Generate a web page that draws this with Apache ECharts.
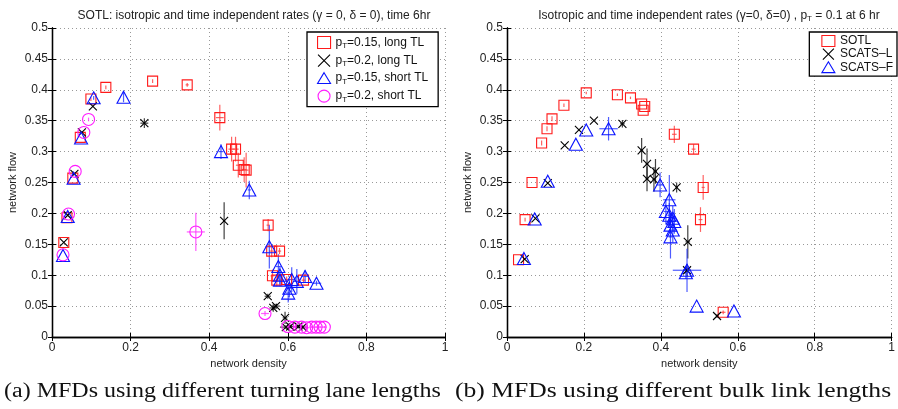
<!DOCTYPE html>
<html>
<head>
<meta charset="utf-8">
<script src="https://cdn.jsdelivr.net/npm/echarts@6/dist/echarts.min.js"></script>
<style>
  html, body { margin: 0; padding: 0; background: #fff; }
  #main { width: 898px; height: 409px; }
</style>
</head>
<body>
<div id="main"></div>
<script>
// each point: [density, flow, density error, flow error]
var longTL015 = [[0.030,0.153,0,0],[0.038,0.193,0,0],[0.053,0.257,0,0],[0.072,0.323,0,0],[0.099,0.385,0,0.003],[0.137,0.404,0,0.003],[0.256,0.414,0,0.003],[0.344,0.408,0.004,0.003],[0.427,0.355,0.010,0.021],[0.457,0.304,0.008,0.020],[0.467,0.304,0.008,0.020],[0.474,0.278,0.006,0.020],[0.489,0.271,0.006,0.020],[0.494,0.270,0.006,0.028],[0.550,0.181,0.004,0.010],[0.559,0.139,0.006,0.010],[0.579,0.139,0.004,0.005],[0.561,0.099,0.005,0.010],[0.572,0.092,0.005,0.010],[0.597,0.093,0.005,0.005],[0.640,0.092,0.005,0.005]];
var longTL02 = [[0.030,0.153,0,0],[0.040,0.197,0,0],[0.057,0.264,0,0],[0.076,0.331,0,0],[0.104,0.373,0,0],[0.235,0.346,0.010,0.008],[0.438,0.188,0.003,0.030],[0.549,0.066,0.008,0.004],[0.563,0.047,0.010,0.006],[0.570,0.050,0.010,0.004],[0.593,0.031,0.006,0.010],[0.595,0.016,0.015,0.003],[0.606,0.017,0.010,0.003],[0.627,0.017,0.010,0.003],[0.638,0.016,0.010,0.003]];
var shortTL015 = [[0.028,0.132,0,0],[0.040,0.195,0,0],[0.055,0.257,0,0],[0.074,0.322,0,0],[0.106,0.387,0,0.003],[0.182,0.388,0,0.008],[0.430,0.300,0.006,0.012],[0.502,0.238,0.004,0.015],[0.553,0.146,0.010,0.035],[0.576,0.114,0.006,0.020],[0.580,0.100,0.006,0.015],[0.580,0.092,0.010,0.010],[0.601,0.071,0.006,0.015],[0.604,0.079,0.008,0.015],[0.610,0.093,0.008,0.020],[0.623,0.090,0.008,0.020],[0.644,0.098,0.010,0.010],[0.673,0.087,0.012,0.004]];
var shortTL02 = [[0.028,0.133,0,0],[0.042,0.199,0,0],[0.059,0.268,0,0],[0.081,0.331,0,0],[0.093,0.352,0,0.003],[0.366,0.170,0.023,0.031],[0.542,0.038,0.010,0.004],[0.600,0.017,0.008,0.003],[0.618,0.016,0.006,0.002],[0.635,0.016,0.006,0.002],[0.648,0.015,0.006,0.002],[0.661,0.016,0.006,0.002],[0.672,0.016,0.006,0.002],[0.682,0.016,0.006,0.002],[0.693,0.016,0.006,0.002]];

var sotl = [[0.030,0.125,0,0],[0.047,0.190,0,0.003],[0.065,0.250,0,0],[0.090,0.314,0,0.004],[0.104,0.337,0,0.004],[0.117,0.353,0,0.004],[0.148,0.375,0,0.003],[0.206,0.395,0,0.002],[0.287,0.392,0,0.002],[0.321,0.387,0,0.002],[0.350,0.377,0,0],[0.358,0.373,0,0],[0.354,0.367,0,0],[0.435,0.328,0.006,0.014],[0.485,0.304,0.005,0.008],[0.510,0.242,0.004,0.020],[0.503,0.190,0.005,0.020],[0.562,0.040,0.006,0.003]];
var scatsL = [[0.046,0.126,0,0],[0.074,0.192,0,0],[0.106,0.249,0,0],[0.150,0.310,0,0],[0.187,0.335,0,0],[0.226,0.350,0,0],[0.300,0.345,0.006,0.006],[0.350,0.302,0.004,0.020],[0.364,0.280,0.004,0.025],[0.364,0.256,0.004,0.020],[0.386,0.268,0.004,0.020],[0.382,0.255,0.004,0.020],[0.441,0.242,0.003,0.008],[0.470,0.154,0.006,0.027],[0.468,0.108,0.010,0.010],[0.546,0.034,0.003,0.003]];
var scatsF = [[0.044,0.127,0,0],[0.072,0.191,0,0],[0.106,0.252,0,0],[0.179,0.312,0,0],[0.206,0.335,0,0],[0.264,0.337,0.024,0.019],[0.398,0.246,0.010,0.020],[0.422,0.222,0.016,0.040],[0.413,0.203,0.006,0.020],[0.422,0.197,0.005,0.020],[0.431,0.192,0.005,0.020],[0.435,0.187,0.006,0.020],[0.425,0.181,0.005,0.020],[0.431,0.173,0.005,0.020],[0.425,0.162,0.005,0.035],[0.468,0.108,0.037,0.035],[0.465,0.104,0.005,0.010],[0.493,0.050,0,0],[0.590,0.042,0,0]];

var xTicks = ['0', '0.2', '0.4', '0.6', '0.8', '1'];

var FONT = 'Liberation Sans, Arial, sans-serif';
var crossPath = 'path://M0,0L10,10M10,0L0,10';
var triPath = 'path://M6,0L12,10L0,10Z';

function errorSeries(data, color, xi) {
    return {
        type: 'custom', name: 'err' + xi, xAxisIndex: xi, yAxisIndex: xi,
        data: data, silent: true, z: 1,
        renderItem: function(params, api) {
            var x = api.value(0), y = api.value(1), ex = api.value(2), ey = api.value(3);
            var c = api.coord([x, y]);
            var kids = [];
            if (ey > 0) {
                var a = api.coord([x, y - ey]), b = api.coord([x, y + ey]);
                kids.push({ type: 'line', shape: { x1: c[0], y1: a[1], x2: c[0], y2: b[1] }, style: { stroke: color, lineWidth: 1.2, opacity: 0.8 } });
            }
            if (ex > 0) {
                var l = api.coord([x - ex, y]), r = api.coord([x + ex, y]);
                kids.push({ type: 'line', shape: { x1: l[0], y1: c[1], x2: r[0], y2: c[1] }, style: { stroke: color, lineWidth: 1.2, opacity: 0.8 } });
            }
            return { type: 'group', children: kids };
        }
    };
}

// hollow markers: transparent fill, thin coloured outline
function markSeries(name, data, xi, symbol, size, color) {
    return {
        type: 'scatter', name: name, xAxisIndex: xi, yAxisIndex: xi,
        data: data.map(function(d) { return [d[0], d[1]]; }),
        symbol: symbol, symbolSize: size, z: 3,
        itemStyle: { color: 'rgba(255,255,255,0)', borderColor: color, borderWidth: 1.1, opacity: 1 },
        emphasis: { disabled: true }
    };
}

function xAxes(gi) {
    return [{
        gridIndex: gi, type: 'value', min: 0, max: 1, interval: 0.2,
        name: 'network density', nameLocation: 'middle', nameGap: 14,
        nameTextStyle: { fontFamily: FONT, fontSize: 11, color: '#222' },
        axisLine: { lineStyle: { color: '#000', width: 1.3 } },
        axisTick: { inside: true, length: 4, lineStyle: { color: '#000' } },
        axisLabel: { margin: 5, fontFamily: FONT, fontSize: 12, color: '#222',
            formatter: function(v) { return xTicks[Math.round(v / 0.2)]; } },
        splitLine: { show: true, lineStyle: { color: '#999', type: [1, 3] } }
    }, {
        gridIndex: gi, type: 'value', min: 0, max: 1, interval: 0.2, position: 'top',
        axisLine: { lineStyle: { color: '#000', width: 1.3 } },
        axisTick: { inside: true, length: 4, lineStyle: { color: '#000' } },
        axisLabel: { show: false }, splitLine: { show: false }
    }];
}

function yAxes(gi) {
    return [{
        gridIndex: gi, type: 'value', min: 0, max: 0.5, interval: 0.05,
        name: 'network flow', nameLocation: 'middle', nameGap: 34, nameRotate: 90,
        nameTextStyle: { fontFamily: FONT, fontSize: 11, color: '#222' },
        axisLine: { lineStyle: { color: '#000', width: 1.3 } },
        axisTick: { inside: true, length: 4, lineStyle: { color: '#000' } },
        axisLabel: { margin: 4, fontFamily: FONT, fontSize: 12, color: '#222',
            formatter: function(v) { return String(+v.toFixed(2)); } },
        splitLine: { show: true, lineStyle: { color: '#999', type: [1, 3] } }
    }, {
        gridIndex: gi, type: 'value', min: 0, max: 0.5, interval: 0.05, position: 'right',
        axisLine: { lineStyle: { color: '#000', width: 1.3 } },
        axisTick: { inside: true, length: 4, lineStyle: { color: '#000' } },
        axisLabel: { show: false }, splitLine: { show: false }
    }];
}

var legendRich = {
    a: { fontFamily: FONT, fontSize: 12, color: '#111' },
    s: { fontFamily: FONT, fontSize: 8, color: '#111', padding: [7, 0, 0, 0] }
};
function subFormat(name) {
    if (name.indexOf('p_T') === 0) {
        return '{a|p}{s|T}{a|' + name.slice(3) + '}';
    }
    return '{a|' + name + '}';
}

var myChart = echarts.init(document.getElementById('main'), null, { renderer: 'canvas' });

var option = {
    animation: false,
    backgroundColor: '#fff',
    title: [{
        text: 'SOTL: isotropic and time independent rates (\u03b3 = 0, \u03b4 = 0), time 6hr',
        left: 249, top: 5, textAlign: 'center',
        textStyle: { fontFamily: FONT, fontSize: 12, fontWeight: 'normal', color: '#222' }
    }, {
        text: '{a|Isotropic and time independent rates (\u03b3=0, \u03b4=0) , p}{s|T}{a| = 0.1 at 6 hr}',
        left: 704, top: 3, textAlign: 'center',
        textStyle: { fontFamily: FONT, fontSize: 12, fontWeight: 'normal', color: '#222',
            rich: { a: { fontFamily: FONT, fontSize: 12, color: '#222' },
                    s: { fontFamily: FONT, fontSize: 8, color: '#222', padding: [7, 0, 0, 0] } } }
    }],
    grid: [
        { left: 52, top: 28, width: 393, height: 309 },
        { left: 507, top: 28, width: 390, height: 309 }
    ],
    xAxis: xAxes(0).concat(xAxes(1)),
    yAxis: yAxes(0).concat(yAxes(1)),
    legend: [{
        data: ['p_T=0.15, long TL', 'p_T=0.2, long TL', 'p_T=0.15, short TL', 'p_T=0.2, short TL'],
        orient: 'vertical', left: 307, top: 32,
        padding: [4, 10, 3, 10], itemGap: 4, itemWidth: 13, itemHeight: 12,
        itemStyle: { borderWidth: 1.1 },
        borderColor: '#000', borderWidth: 1.3, backgroundColor: '#fff',
        formatter: subFormat, textStyle: { rich: legendRich }
    }, {
        data: ['SOTL', 'SCATS\u2013L', 'SCATS\u2013F'],
        orient: 'vertical', right: 1, top: 32,
        padding: [3, 4, 3, 12], itemGap: 1, itemWidth: 13, itemHeight: 11,
        itemStyle: { borderWidth: 1.1 },
        borderColor: '#000', borderWidth: 1.3, backgroundColor: '#fff',
        formatter: subFormat, textStyle: { rich: legendRich }
    }],
    series: [
        errorSeries(longTL015, '#ff3b3b', 0),
        errorSeries(longTL02, '#111', 0),
        errorSeries(shortTL015, '#2233ff', 0),
        errorSeries(shortTL02, '#ff33ff', 0),
        markSeries('p_T=0.15, long TL', longTL015, 0, 'rect', 10, '#ff1a1a'),
        markSeries('p_T=0.2, long TL', longTL02, 0, crossPath, 8, '#000'),
        markSeries('p_T=0.15, short TL', shortTL015, 0, triPath, [13, 12], '#0a14ff'),
        markSeries('p_T=0.2, short TL', shortTL02, 0, 'circle', 12, '#ff1aff'),
        errorSeries(sotl, '#ff3b3b', 2),
        errorSeries(scatsL, '#111', 2),
        errorSeries(scatsF, '#2233ff', 2),
        markSeries('SOTL', sotl, 2, 'rect', 10, '#ff1a1a'),
        markSeries('SCATS\u2013L', scatsL, 2, crossPath, 8, '#000'),
        markSeries('SCATS\u2013F', scatsF, 2, triPath, [13, 12], '#0a14ff')
    ],
    graphic: [{
        type: 'text', x: 4, y: 382, scaleX: 1.2,
        style: { text: '(a) MFDs using different turning lane lengths', font: '20px "Liberation Serif", "DejaVu Serif", serif', fill: '#111' }
    }, {
        type: 'text', x: 455, y: 382, scaleX: 1.28,
        style: { text: '(b) MFDs using different bulk link lengths', font: '20px "Liberation Serif", "DejaVu Serif", serif', fill: '#111' }
    }]
};

// 使用刚指定的配置项和数据显示图表。
myChart.setOption(option);
</script>
</body>
</html>
